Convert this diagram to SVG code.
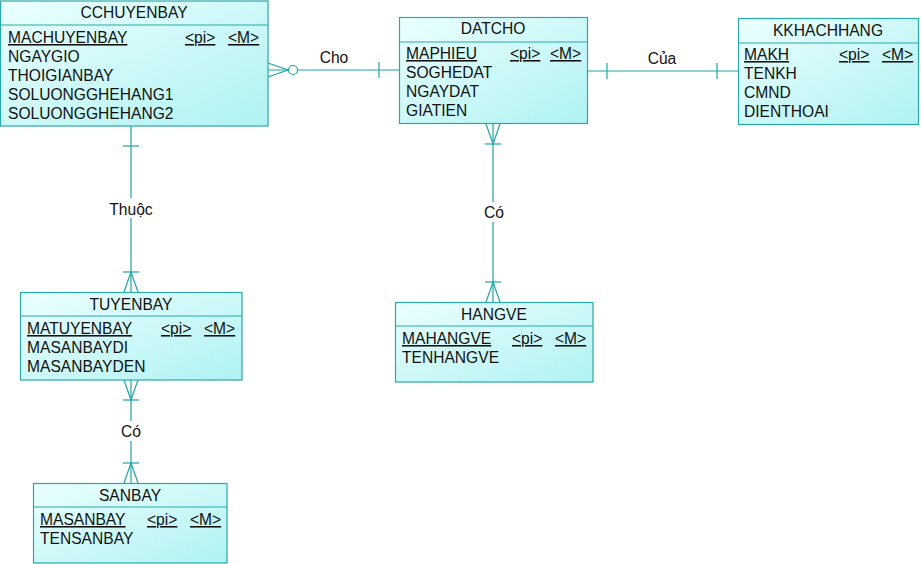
<svg xmlns="http://www.w3.org/2000/svg" width="921" height="564" viewBox="0 0 921 564">
<defs>
<linearGradient id="g" x1="0" y1="0" x2="1" y2="1">
<stop offset="0" stop-color="#ecffff"/>
<stop offset="1" stop-color="#b0f2f2"/>
</linearGradient>
</defs>
<style>
.box{fill:url(#g);stroke:#2aa9a9;stroke-width:1.2}
.sep{stroke:#2aa9a9;stroke-width:1.2}
text{font-family:"Liberation Sans",Arial,sans-serif;font-size:15.6px;fill:#111}
.h{text-anchor:middle}
.u{text-decoration:underline}
.c{stroke:#1fa5a5;stroke-width:1.2;fill:none}
.lbl{text-anchor:middle}
</style>
<rect width="921" height="564" fill="#ffffff"/>
<g id="connectors">
<!-- Cho -->
<line class="c" x1="268" y1="70" x2="400" y2="70"/>
<polyline class="c" points="268,63 288,70 268,77"/>
<circle cx="293" cy="70" r="4.5" fill="#fff" stroke="#1fa5a5" stroke-width="1.2"/>
<line class="c" x1="379" y1="62" x2="379" y2="78"/>
<text class="lbl" x="334" y="63">Cho</text>
<!-- Của -->
<line class="c" x1="588" y1="71" x2="739" y2="71"/>
<line class="c" x1="607" y1="63" x2="607" y2="79"/>
<line class="c" x1="717" y1="63" x2="717" y2="79"/>
<text class="lbl" x="662" y="64">Của</text>
<!-- Thuộc -->
<line class="c" x1="131" y1="126" x2="131" y2="292"/>
<line class="c" x1="123" y1="146" x2="139" y2="146"/>
<line class="c" x1="123" y1="272" x2="139" y2="272"/>
<polyline class="c" points="124,292 131,272 138,292"/>
<rect x="105" y="198" width="52" height="20" fill="#fff"/>
<text class="lbl" x="131" y="215">Thuộc</text>
<!-- Có DATCHO-HANGVE -->
<line class="c" x1="493" y1="124" x2="493" y2="302"/>
<polyline class="c" points="486,124 493,144 500,124"/>
<line class="c" x1="485" y1="144" x2="501" y2="144"/>
<line class="c" x1="485" y1="282" x2="501" y2="282"/>
<polyline class="c" points="486,302 493,282 500,302"/>
<rect x="480" y="202" width="26" height="20" fill="#fff"/>
<text class="lbl" x="494" y="218">Có</text>
<!-- Có TUYENBAY-SANBAY -->
<line class="c" x1="131" y1="380" x2="131" y2="483"/>
<polyline class="c" points="124,380 131,400 138,380"/>
<line class="c" x1="123" y1="400" x2="139" y2="400"/>
<line class="c" x1="123" y1="463" x2="139" y2="463"/>
<polyline class="c" points="124,483 131,463 138,483"/>
<rect x="118" y="421" width="26" height="20" fill="#fff"/>
<text class="lbl" x="131" y="437">Có</text>
</g>
<g id="CCHUYENBAY">
<rect class="box" x="0.5" y="1" width="267.5" height="125"/>
<line class="sep" x1="0.5" y1="25" x2="268" y2="25"/>
<text class="h" x="134" y="18">CCHUYENBAY</text>
<text class="u" x="8" y="43">MACHUYENBAY</text>
<text class="u" x="185" y="43">&lt;pi&gt;</text>
<text class="u" x="228" y="43">&lt;M&gt;</text>
<text x="8" y="62">NGAYGIO</text>
<text x="8" y="81">THOIGIANBAY</text>
<text x="8" y="100">SOLUONGGHEHANG1</text>
<text x="8" y="119">SOLUONGGHEHANG2</text>
</g>
<g id="DATCHO">
<rect class="box" x="399.5" y="17.5" width="188" height="106"/>
<line class="sep" x1="399.5" y1="42" x2="587.5" y2="42"/>
<text class="h" x="493" y="34">DATCHO</text>
<text class="u" x="406" y="59">MAPHIEU</text>
<text class="u" x="510" y="59">&lt;pi&gt;</text>
<text class="u" x="550" y="59">&lt;M&gt;</text>
<text x="406" y="78">SOGHEDAT</text>
<text x="406" y="97">NGAYDAT</text>
<text x="406" y="116">GIATIEN</text>
</g>
<g id="KKHACHHANG">
<rect class="box" x="738.5" y="18.5" width="180" height="106"/>
<line class="sep" x1="738.5" y1="43" x2="918.5" y2="43"/>
<text class="h" x="828" y="36">KKHACHHANG</text>
<text class="u" x="744" y="60">MAKH</text>
<text class="u" x="839" y="60">&lt;pi&gt;</text>
<text class="u" x="882" y="60">&lt;M&gt;</text>
<text x="744" y="79">TENKH</text>
<text x="744" y="98">CMND</text>
<text x="744" y="117">DIENTHOAI</text>
</g>
<g id="TUYENBAY">
<rect class="box" x="20.5" y="292.5" width="221.5" height="87.5"/>
<line class="sep" x1="20.5" y1="316" x2="242" y2="316"/>
<text class="h" x="131" y="310">TUYENBAY</text>
<text class="u" x="27" y="334">MATUYENBAY</text>
<text class="u" x="161" y="334">&lt;pi&gt;</text>
<text class="u" x="204" y="334">&lt;M&gt;</text>
<text x="27" y="353">MASANBAYDI</text>
<text x="27" y="372">MASANBAYDEN</text>
</g>
<g id="HANGVE">
<rect class="box" x="395.5" y="302.5" width="197.5" height="79.5"/>
<line class="sep" x1="395.5" y1="326" x2="593" y2="326"/>
<text class="h" x="494" y="320">HANGVE</text>
<text class="u" x="402" y="344">MAHANGVE</text>
<text class="u" x="512" y="344">&lt;pi&gt;</text>
<text class="u" x="555" y="344">&lt;M&gt;</text>
<text x="402" y="363">TENHANGVE</text>
</g>
<g id="SANBAY">
<rect class="box" x="33.5" y="483.5" width="193.5" height="79.5"/>
<line class="sep" x1="33.5" y1="507" x2="227" y2="507"/>
<text class="h" x="130" y="501">SANBAY</text>
<text class="u" x="40" y="525">MASANBAY</text>
<text class="u" x="147" y="525">&lt;pi&gt;</text>
<text class="u" x="190" y="525">&lt;M&gt;</text>
<text x="40" y="544">TENSANBAY</text>
</g>
</svg>
